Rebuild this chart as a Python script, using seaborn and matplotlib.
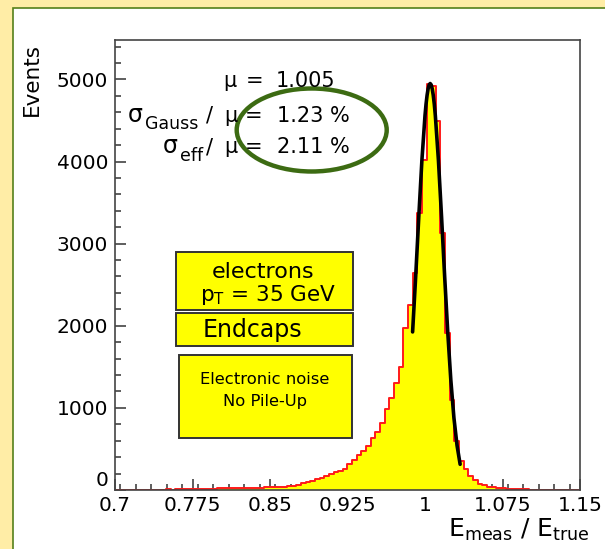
import numpy as np
import pandas as pd
import matplotlib
matplotlib.use("Agg")
import matplotlib.pyplot as plt
import matplotlib.ticker as mticker
from matplotlib.patches import Rectangle, Ellipse
import seaborn as sns

# ---------------- data ----------------
bin_lo = 0.70
bin_hi = 1.15
n_bins = 100
counts = [
    2, 1, 3, 2, 3, 4, 3, 5, 4, 6,
    5, 7, 6, 8, 9, 10, 11, 13, 12, 15,
    16, 18, 20, 21, 23, 22, 25, 27, 26, 28,
    30, 29, 32, 34, 36, 38, 40, 48, 52, 60,
    85, 95, 113, 130, 150, 170, 190, 215, 235, 250,
    315, 370, 430, 470, 535, 630, 710, 820, 985, 1120,
    1305, 1500, 1970, 2256, 2646, 3378, 4024, 4950, 4920, 4490,
    3134, 1915, 1098, 595, 350, 260, 170, 118, 75, 62,
    42, 32, 28, 22, 18, 15, 12, 9, 7, 5,
    4, 3, 3, 2, 2, 1, 1, 1, 0, 1,
]
fit_x = [0.988, 0.991, 0.994, 0.997, 1.000, 1.001, 1.002, 1.003, 1.004, 1.005,
         1.006, 1.007, 1.008, 1.009, 1.010, 1.013, 1.016, 1.019, 1.022, 1.025,
         1.028, 1.031, 1.034]
fit_y = [1925, 2605, 3330, 4015, 4560, 4698, 4806, 4885, 4934, 4950,
         4934, 4885, 4806, 4698, 4560, 4015, 3330, 2605, 1925, 1337,
         877, 543, 313]
x_ticks = [0.7, 0.775, 0.85, 0.925, 1.0, 1.075, 1.15]
x_tick_labels = ["0.7", "0.775", "0.85", "0.925", "1", "1.075", "1.15"]
y_ticks = [0, 1000, 2000, 3000, 4000, 5000]
y_tick_labels = ["0", "1000", "2000", "3000", "4000", "5000"]
mu_value = "1.005"
sigma_gauss_value = "1.23 %"
sigma_eff_value = "2.11 %"
box_line1 = "electrons"
box_line2 = r"p$_{\mathrm{T}}$ = 35 GeV"
box_region = "Endcaps"
box_cond1 = "Electronic noise"
box_cond2 = "No Pile-Up"
x_title = r"E$_{\mathrm{meas}}$ / E$_{\mathrm{true}}$"
y_title = "Events"

edges = list(np.linspace(bin_lo, bin_hi, n_bins + 1))
centers = [0.5 * (a + b) for a, b in zip(edges[:-1], edges[1:])]
df = pd.DataFrame({"x": centers, "w": counts})
fit_df = pd.DataFrame({"x": fit_x, "y": fit_y})

# ---------------- style ----------------
sns.set_theme(style="white")
plt.rcParams["font.family"] = ["DejaVu Sans"]
plt.rcParams["mathtext.fontset"] = "custom"
plt.rcParams["mathtext.rm"] = "DejaVu Sans"
plt.rcParams["mathtext.it"] = "DejaVu Sans:italic"
plt.rcParams["mathtext.bf"] = "DejaVu Sans:bold"

W, H = 605, 549
fig = plt.figure(figsize=(W / 100, H / 100), dpi=100)
fig.patch.set_facecolor("#FFEDA6")


def fx(px):
    return px / W


def fy(py):
    return 1 - py / H


def put(px, py, s, size, ha="center", va="baseline", **kw):
    return fig.text(fx(px), fy(py), s, ha=ha, va=va, fontsize=size,
                    color="black", zorder=6, **kw)


# inner white panel
fig.patches.append(Rectangle((fx(13), -0.01), 1.0, fy(8) + 0.01,
                             transform=fig.transFigure,
                             facecolor="white", edgecolor="#55801A", lw=1.2,
                             zorder=-5))

ax = fig.add_axes([fx(115), fy(490), fx(580) - fx(115), fy(40) - fy(490)])
ax.set_facecolor("white")
ax.set_zorder(1)

sns.histplot(data=df, x="x", weights="w", bins=edges, element="step",
             fill=True, color="#FFFF00", alpha=1.0, linewidth=0, ax=ax)
sns.histplot(data=df, x="x", weights="w", bins=edges, element="step",
             fill=False, color="#FF1A1A", linewidth=1.4, ax=ax)
sns.lineplot(data=fit_df, x="x", y="y", color="black", linewidth=2.6, ax=ax)

ax.set_xlim(bin_lo, bin_hi)
ax.set_ylim(0, 5480)
ax.set_xlabel("")
ax.set_ylabel("")

ax.xaxis.set_major_locator(mticker.FixedLocator(x_ticks))
ax.xaxis.set_major_formatter(mticker.FixedFormatter(x_tick_labels))
ax.xaxis.set_minor_locator(mticker.MultipleLocator(0.015))
ax.yaxis.set_major_locator(mticker.FixedLocator(y_ticks))
ax.yaxis.set_major_formatter(mticker.FixedFormatter(y_tick_labels))
ax.yaxis.set_minor_locator(mticker.MultipleLocator(200))

ax.tick_params(axis="both", which="both", direction="in", colors="#333333",
               labelcolor="black", labelsize=14.5)
ax.tick_params(axis="x", which="both", bottom=True, top=False, pad=4)
ax.tick_params(axis="y", which="both", left=True, right=False, pad=5)
ax.tick_params(which="major", length=8, width=1.1)
ax.tick_params(which="minor", length=4.5, width=1.1)
for s in ax.spines.values():
    s.set_color("#444444")
    s.set_linewidth(1.2)
ax.get_yticklabels()[0].set_va("bottom")

# axis titles
put(590, 530, x_title, 18, ha="right", va="center")
put(32, 80, y_title, 15.5, va="center", rotation=90)

# fit statistics (ROOT TLatex-like wide spacing)
put(229.7, 86.7, "μ", 15)
put(254.5, 86.7, "=", 15)
put(305, 86.7, mu_value, 15)

put(135, 121.7, "σ", 17)
put(145, 129.3, "Gauss", 12.5, ha="left")
put(209.5, 121.7, "/", 15)
put(231, 121.7, "μ", 15)
put(253.5, 121.7, "=", 15)
put(313.5, 121.7, sigma_gauss_value, 15)

put(170, 153.3, "σ", 17)
put(180, 161, "eff", 12.5, ha="left")
put(209.5, 153.3, "/", 15)
put(231, 153.3, "μ", 15)
put(253.5, 153.3, "=", 15)
put(313.5, 153.3, sigma_eff_value, 15)

fig.patches.append(Ellipse((fx(311.7), fy(130)), fx(150), 83 / H,
                           transform=fig.transFigure, fill=False,
                           edgecolor="#3C6B12", lw=3.2, zorder=5))

# label boxes
boxes = [(176, 252, 353, 310), (176, 313, 353, 346), (179, 355, 352, 438)]
for (x0, y0, x1, y1) in boxes:
    fig.patches.append(Rectangle((fx(x0), fy(y1)), fx(x1) - fx(x0),
                                 fy(y0) - fy(y1), transform=fig.transFigure,
                                 facecolor="#FFFF00", edgecolor="#333333",
                                 lw=1.4, zorder=4))
put(263, 271.5, box_line1, 16, va="center")
put(268, 295, box_line2, 15.5, va="center")
put(252, 329.5, box_region, 17, va="center")
put(265, 380, box_cond1, 11.8, va="center")
put(265, 401.5, box_cond2, 11.8, va="center")

fig.savefig("out.png", dpi=100)
